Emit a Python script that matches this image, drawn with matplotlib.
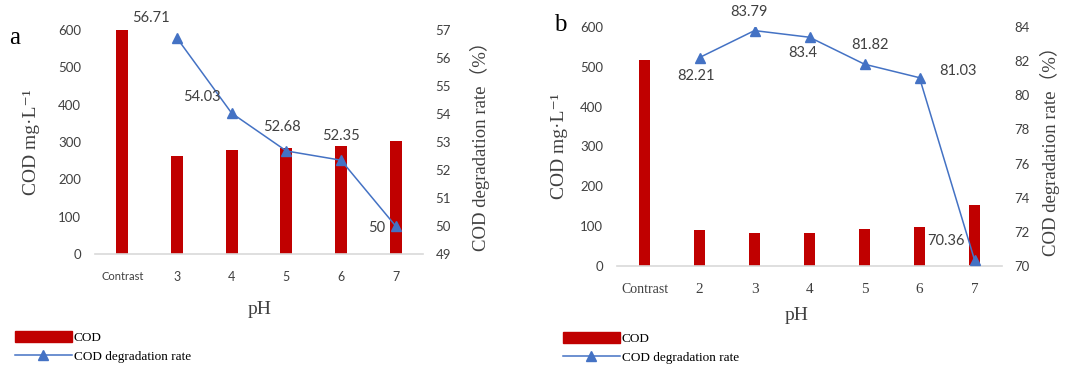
import matplotlib
matplotlib.use("Agg")
import matplotlib.pyplot as plt
from matplotlib.lines import Line2D
from matplotlib.patches import Patch

# ---------------- data ----------------
cats_a = ["Contrast", "3", "4", "5", "6", "7"]
cod_a = [600, 263, 278, 285, 289, 303]
rate_a = [56.71, 54.03, 52.68, 52.35, 50]

cats_b = ["Contrast", "2", "3", "4", "5", "6", "7"]
cod_b = [516, 91, 84, 84, 94, 97, 153]
rate_b = [82.21, 83.79, 83.4, 81.82, 81.03, 70.36]

BAR = "#C00000"
LINE = "#4472C4"
SANS = ["Lato", "DejaVu Sans"]
SERIF = ["Liberation Serif", "DejaVu Serif", "Noto Sans CJK SC"]

W, H = 1068, 366
fig = plt.figure(figsize=(W / 100, H / 100), dpi=100)


def box(x0, y0, x1, y1):
    return [x0 / W, (H - y1) / H, (x1 - x0) / W, (y1 - y0) / H]


def panel(rect, cats, cod, rate, ylim2, yt2, bw, xfont, xsize, label_offsets,
          letter, letter_xy, ylab_x, y2lab_x, ph_xy, leg_xy):
    ax = fig.add_axes(box(*rect))
    n = len(cats)
    xs = list(range(n))
    ax.bar(xs, cod, width=bw, color=BAR, zorder=2)
    ax.set_xlim(-0.5, n - 0.5)
    ax.set_ylim(0, 600)
    ax.set_yticks(range(0, 601, 100))
    ax.set_xticks(xs)
    ax.set_xticklabels(cats)
    for s in ["top", "left", "right"]:
        ax.spines[s].set_visible(False)
    ax.spines["bottom"].set_color("#D9D9D9")
    ax.spines["bottom"].set_linewidth(1.2)
    ax.tick_params(axis="both", length=0)
    ax.tick_params(axis="y", pad=10, labelsize=9.5, labelcolor="#404040")
    ax.tick_params(axis="x", pad=12)
    for t in ax.get_yticklabels():
        t.set_family(SANS)
    for t in ax.get_xticklabels():
        t.set_family(xfont)
        t.set_fontsize(xsize if t.get_text() != "Contrast" else xsize - 1)
        t.set_color("#404040")

    ax2 = ax.twinx()
    lx = xs[1:]
    ax2.plot(lx, rate, color=LINE, lw=1.1, marker="^", ms=7.5, zorder=3)
    ax2.set_ylim(*ylim2)
    ax2.set_yticks(yt2)
    for s in ["top", "left", "right", "bottom"]:
        ax2.spines[s].set_visible(False)
    ax2.tick_params(axis="y", length=0, pad=9, labelsize=9.5, labelcolor="#404040")
    for t in ax2.get_yticklabels():
        t.set_family(SANS)
    for x, v, off in zip(lx, rate, label_offsets):
        ax2.annotate(f"{v:g}", (x, v), xytext=off, textcoords="offset pixels",
                     ha="center", va="center", fontsize=10.5, family=SANS,
                     color="#404040")

    fig.text(letter_xy[0] / W, 1 - letter_xy[1] / H, letter, fontsize=18,
             family=SERIF, ha="center", va="center")
    fig.text(ylab_x / W, 1 - (rect[1] + rect[3]) / 2 / H, "COD mg·L⁻¹",
             rotation=90, fontsize=14, family=SERIF, ha="center", va="center",
             color="#404040")
    fig.text(y2lab_x / W, 1 - (rect[1] + rect[3]) / 2 / H,
             "COD degradation rate（%）", rotation=90, fontsize=13.5,
             family=SERIF, ha="center", va="center", color="#404040")
    fig.text(ph_xy[0] / W, 1 - ph_xy[1] / H, "pH", fontsize=14, family=SERIF,
             ha="center", va="center", color="#404040")

    handles = [Patch(facecolor=BAR, edgecolor=BAR),
               Line2D([], [], color=LINE, lw=1.1, marker="^", ms=7.5)]
    fig.legend(handles, ["COD", "COD degradation rate"],
               loc="upper left", bbox_to_anchor=(leg_xy[0] / W, 1 - leg_xy[1] / H),
               frameon=False, borderpad=0, borderaxespad=0,
               handlelength=4.3, handleheight=0.9, handletextpad=0.15,
               labelspacing=0.45, prop={"family": SERIF, "size": 9.5})
    return ax, ax2


panel((95, 30, 423, 254), cats_a, cod_a, rate_a, (49, 57), range(49, 58), 0.22,
      SANS, 9, [(-26, 20), (-30, 16), (-4, 24), (0, 24), (-19, -2)],
      "a", (15, 38), 32, 480, (260, 310), (15, 331))

panel((617, 27, 1002, 266), cats_b, cod_b, rate_b, (70, 84), range(70, 85, 2), 0.2,
      SERIF, 11, [(-4, -18), (-6, 19), (-7, -16), (6, 19), (39, 7), (-28, 19)],
      "b", (560, 25), 560, 1050, (797, 315), (563, 332))

fig.savefig("out.png", dpi=100)
